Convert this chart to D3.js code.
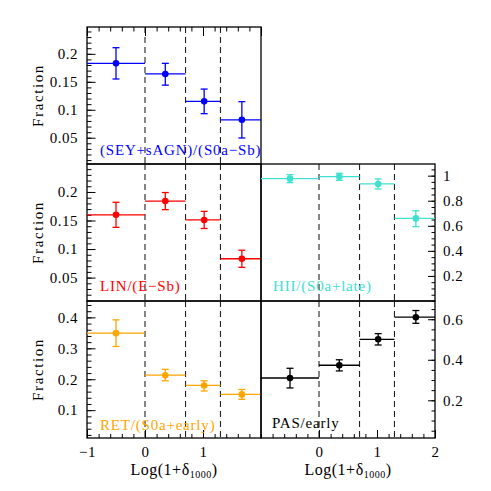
<!DOCTYPE html>
<html><head><meta charset="utf-8">
<script src="https://cdn.jsdelivr.net/npm/d3@7"></script>
<style>body{margin:0;background:#fff}svg{display:block}</style>
</head><body><svg id="c" width="491" height="491"></svg>
<script>
// ---- data ----
const binEdges = [-1, 0, 0.699, 1.301, 2];
const dashedAt = [0, 0.699, 1.301];
const xPoints = [-0.5, 0.35, 1.02, 1.67];

const seyY  = [0.183, 0.164, 0.115, 0.082];
const seyLo = [0.155, 0.144, 0.093, 0.0495];
const seyHi = [0.211, 0.183, 0.137, 0.1145];

const linY  = [0.160, 0.184, 0.151, 0.083];
const linLo = [0.138, 0.169, 0.136, 0.068];
const linHi = [0.182, 0.199, 0.166, 0.098];

const retY  = [0.349, 0.213, 0.180, 0.151];
const retLo = [0.306, 0.195, 0.162, 0.135];
const retHi = [0.392, 0.232, 0.195, 0.167];

const hiiY  = [0.976, 0.992, 0.934, 0.659];
const hiiLo = [0.944, 0.963, 0.894, 0.593];
const hiiHi = [1.008, 1.019, 0.974, 0.720];

const pasY  = [0.310, 0.373, 0.501, 0.610];
const pasLo = [0.261, 0.345, 0.473, 0.580];
const pasHi = [0.358, 0.400, 0.529, 0.643];

const yTicksTop = [0.05, 0.1, 0.15, 0.2];
const yTicksMid = [0.05, 0.1, 0.15, 0.2];
const yTicksBot = [0.1, 0.2, 0.3, 0.4];
const yTicksHii = [0.2, 0.4, 0.6, 0.8, 1];
const yTicksPas = [0.2, 0.4, 0.6];
const xTicksLeft = [-1, 0, 1];
const xTicksRight = [0, 1, 2];

// ---- layout ----
const svg = d3.select("#c");
const X0 = 87, X1 = 261, X2 = 435;
const Y0 = 27, Y1 = 164, Y2 = 301, Y3 = 438;
const serif = "'Liberation Serif', 'Times New Roman', serif";

const panels = [
  {x0:X0,x1:X1,y0:Y0,y1:Y1,dom:[0.003,0.248],y:seyY,lo:seyLo,hi:seyHi,color:"#0000ff",
   label:"(SEY+sAGN)/(S0a\u2212Sb)",lx:100,ly:155,side:"left",ticks:yTicksTop,minor:0.01,top:true},
  {x0:X0,x1:X1,y0:Y1,y1:Y2,dom:[0.009,0.249],y:linY,lo:linLo,hi:linHi,color:"#ff0000",
   label:"LIN/(E\u2212Sb)",lx:100,ly:291,side:"left",ticks:yTicksMid,minor:0.01},
  {x0:X0,x1:X1,y0:Y2,y1:Y3,dom:[0.01,0.453],y:retY,lo:retLo,hi:retHi,color:"#ffa500",
   label:"RET/(S0a+early)",lx:100,ly:430,side:"left",ticks:yTicksBot,minor:0.02,bottom:xTicksLeft},
  {x0:X1,x1:X2,y0:Y1,y1:Y2,dom:[0.0,1.093],y:hiiY,lo:hiiLo,hi:hiiHi,color:"#40e0d0",
   label:"HII/(S0a+late)",lx:273,ly:291,side:"right",ticks:yTicksHii,minor:0.05},
  {x0:X1,x1:X2,y0:Y2,y1:Y3,dom:[0.014,0.69],y:pasY,lo:pasLo,hi:pasHi,color:"#000000",
   label:"PAS/early",lx:272,ly:428,side:"right",ticks:yTicksPas,minor:0.05,bottom:xTicksRight}
];

function range(a,b,s){const r=[];for(let v=a;v<=b+1e-9;v+=s)r.push(+v.toFixed(4));return r;}

panels.forEach(p=>{
  const x = d3.scaleLinear().domain([-1,2]).range([p.x0,p.x1]);
  const y = d3.scaleLinear().domain(p.dom).range([p.y1,p.y0]);
  const g = svg.append("g");

  // dashed lines
  g.selectAll("line.d").data(dashedAt).join("line")
    .attr("x1",d=>x(d)).attr("x2",d=>x(d)).attr("y1",p.y0).attr("y2",p.y1)
    .attr("stroke","#222").attr("stroke-width",1.1).attr("stroke-dasharray","6,4");

  // y axes
  const minorVals = range(Math.ceil(p.dom[0]/p.minor)*p.minor, p.dom[1], p.minor);
  const fmt = d=>String(+d.toFixed(3));
  if(p.side==="left"){
    g.append("g").attr("transform",`translate(${p.x0},0)`)
      .call(d3.axisLeft(y).tickValues(minorVals).tickSize(-4.5).tickFormat(""));
    g.append("g").attr("class","maj").attr("transform",`translate(${p.x0},0)`)
      .call(d3.axisLeft(y).tickValues(p.ticks).tickSize(-8.5).tickPadding(9).tickFormat(fmt));
  } else {
    g.append("g").attr("transform",`translate(${p.x1},0)`)
      .call(d3.axisRight(y).tickValues(minorVals).tickSize(-3.5).tickFormat(""));
    g.append("g").attr("class","maj").attr("transform",`translate(${p.x1},0)`)
      .call(d3.axisRight(y).tickValues(p.ticks).tickSize(-7).tickPadding(8).tickFormat(fmt));
  }
  if(p.top){
    g.append("g").attr("transform",`translate(0,${p.y0})`)
      .call(d3.axisTop(x).tickValues(range(-1,2,0.2)).tickSize(-4.5).tickFormat(""));
    g.append("g").attr("transform",`translate(0,${p.y0})`)
      .call(d3.axisTop(x).tickValues([-1,0,1,2]).tickSize(-9).tickFormat(""));
  }
  if(p.bottom){
    g.append("g").attr("transform",`translate(0,${p.y1})`)
      .call(d3.axisBottom(x).tickValues(range(-1,2,0.2)).tickSize(-4).tickFormat(""));
    g.append("g").attr("class","maj").attr("transform",`translate(0,${p.y1})`)
      .call(d3.axisBottom(x).tickValues(p.bottom).tickSize(-8).tickPadding(8).tickFormat(d3.format("d")));
  }
  g.selectAll(".domain").remove();
  g.selectAll(".tick line").attr("stroke","#000").attr("stroke-width",1);
  g.selectAll(".tick text").attr("font-family",serif).attr("font-size",15).attr("fill","#000")
    .attr("letter-spacing",0.5);

  // frame
  g.append("rect").attr("x",p.x0).attr("y",p.y0).attr("width",p.x1-p.x0).attr("height",p.y1-p.y0)
    .attr("fill","none").attr("stroke","#000").attr("stroke-width",1.3);

  // bins
  const idx = d3.range(p.y.length);
  g.selectAll("line.h").data(idx).join("line")
    .attr("x1",i=>x(binEdges[i])).attr("x2",i=>x(binEdges[i+1]))
    .attr("y1",i=>y(p.y[i])).attr("y2",i=>y(p.y[i]))
    .attr("stroke",p.color).attr("stroke-width",1.3);
  // error bars
  g.selectAll("line.e").data(idx).join("line")
    .attr("x1",i=>x(xPoints[i])).attr("x2",i=>x(xPoints[i]))
    .attr("y1",i=>y(p.lo[i])).attr("y2",i=>y(p.hi[i]))
    .attr("stroke",p.color).attr("stroke-width",1.3);
  ["lo","hi"].forEach(k=>{
    g.selectAll("line.c"+k).data(idx).join("line")
      .attr("x1",i=>x(xPoints[i])-3.5).attr("x2",i=>x(xPoints[i])+3.5)
      .attr("y1",i=>y(p[k][i])).attr("y2",i=>y(p[k][i]))
      .attr("stroke",p.color).attr("stroke-width",1.3);
  });
  g.selectAll("circle").data(idx).join("circle")
    .attr("cx",i=>x(xPoints[i])).attr("cy",i=>y(p.y[i])).attr("r",3.3).attr("fill",p.color);

  // label
  g.append("text").attr("x",p.lx).attr("y",p.ly).attr("font-family",serif).attr("font-size",15)
    .attr("letter-spacing",0.8).attr("fill",p.color).text(p.label);

  if(p.side==="left"){
    g.append("text").attr("transform",`translate(43,${(p.y0+p.y1)/2}) rotate(-90)`)
      .attr("text-anchor","middle").attr("font-family",serif).attr("font-size",15)
      .attr("letter-spacing",1.6).attr("fill","#000").text("Fraction");
  }
  if(p.bottom){
    const t = g.append("text").attr("x",(p.x0+p.x1)/2).attr("y",475).attr("text-anchor","middle")
      .attr("font-family",serif).attr("font-size",16).attr("fill","#000").attr("letter-spacing",0.5);
    t.append("tspan").text("Log(1+\u03b4");
    t.append("tspan").attr("font-size",10).attr("dy",3).text("1000");
    t.append("tspan").attr("dy",-3).text(")");
  }
});
</script></body></html>
